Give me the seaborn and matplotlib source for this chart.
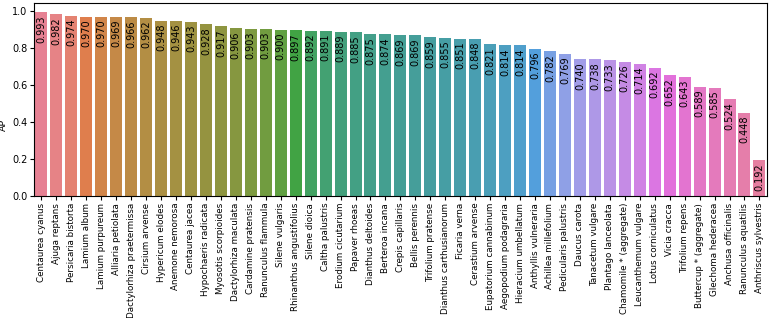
import matplotlib
matplotlib.use("Agg")
import matplotlib.pyplot as plt
import seaborn as sns
import pandas as pd

species = [
    "Centaurea cyanus", "Ajuga reptans", "Persicaria bistorta", "Lamium album",
    "Lamium purpureum", "Alliaria petiolata", "Dactylorhiza praetermissa",
    "Cirsium arvense", "Hypericum elodes", "Anemone nemorosa", "Centaurea jacea",
    "Hypochaeris radicata", "Myosotis scorpioides", "Dactylorhiza maculata",
    "Cardamine pratensis", "Ranunculus flammula", "Silene vulgaris",
    "Rhinanthus angustifolius", "Silene dioica", "Caltha palustris",
    "Erodium cicutarium", "Papaver rhoeas", "Dianthus deltoides", "Berteroa incana",
    "Crepis capillaris", "Bellis perennis", "Trifolium pratense",
    "Dianthus carthusianorum", "Ficaria verna", "Cerastium arvense",
    "Eupatorium cannabinum", "Aegopodium podagraria", "Hieracium umbellatum",
    "Anthyllis vulneraria", "Achillea millefolium", "Pedicularis palustris",
    "Daucus carota", "Tanacetum vulgare", "Plantago lanceolata",
    "Chamomile * (aggregate)", "Leucanthemum vulgare", "Lotus corniculatus",
    "Vicia cracca", "Trifolium repens", "Buttercup * (aggregate)",
    "Glechoma hederacea", "Anchusa officinalis", "Ranunculus aquatilis",
    "Anthriscus sylvestris",
]
ap = [
    0.993, 0.982, 0.974, 0.970, 0.970, 0.969, 0.966, 0.962, 0.948, 0.946,
    0.943, 0.928, 0.917, 0.906, 0.903, 0.903, 0.900, 0.897, 0.892, 0.891,
    0.889, 0.885, 0.875, 0.874, 0.869, 0.869, 0.859, 0.855, 0.851, 0.848,
    0.821, 0.814, 0.814, 0.796, 0.782, 0.769, 0.740, 0.738, 0.733, 0.726,
    0.714, 0.692, 0.652, 0.643, 0.589, 0.585, 0.524, 0.448, 0.192,
]

df = pd.DataFrame({"species": species, "AP": ap})

fig, ax = plt.subplots(figsize=(7.7, 3.18), dpi=100)
sns.barplot(data=df, x="species", y="AP", hue="species", legend=False, ax=ax)

# value labels just inside the top of each bar
for bars in ax.containers:
    for b in bars:
        h = b.get_height()
        ax.annotate(f"{h:.3f}", (b.get_x() + b.get_width() / 2, h),
                    xytext=(0, -2), textcoords="offset points",
                    ha="center", va="top", rotation=90, fontsize=7)

ax.set_xlabel("")
ax.set_ylabel("AP", fontsize=6.8)
ax.yaxis.set_label_coords(-0.036, 0.37)
ax.tick_params(axis="x", labelrotation=90, labelsize=6.3, pad=2, length=3)
ax.tick_params(axis="y", labelsize=7, pad=1.5, length=3)
fig.subplots_adjust(left=0.044, right=0.996, top=0.99, bottom=0.384)
fig.savefig("out.png", dpi=100)
